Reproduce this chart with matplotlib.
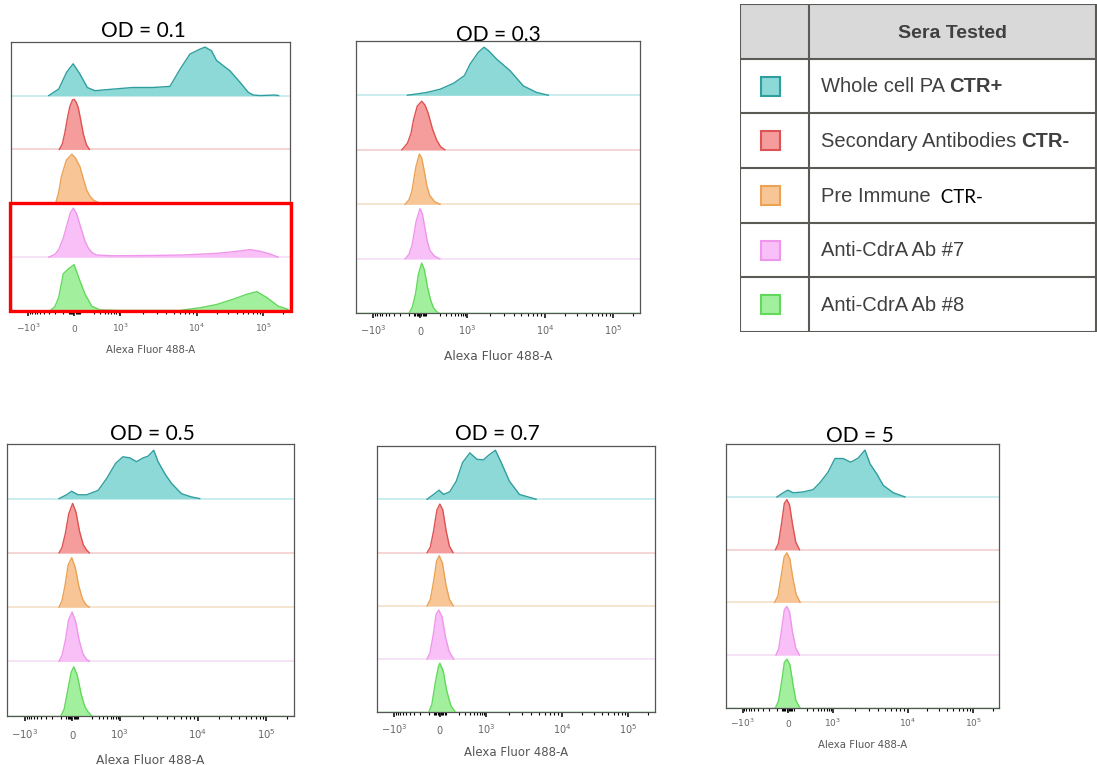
"""flow cytometry overlay figure: anti-CdrA sera at five OD values, plus the sera legend table.

each panel is a stacked (offset) histogram of Alexa Fluor 488-A, one lane per serum,
heights given as % of the lane height. x values are fluorescence, shown on a
logicle-like (biexponential) axis.
"""

import numpy as np
import matplotlib
matplotlib.use("Agg")
import matplotlib.pyplot as plt
from matplotlib.patches import Rectangle
from matplotlib.transforms import blended_transform_factory

# ---- data: (fluorescence, % of lane height) ----
od01_ctr_pos = [(-300, 0), (-150, 12), (-68, 43), (-10, 59), (48, 40), (120, 15), (215, 9),
                (460, 11), (1470, 15), (2700, 15), (4490, 17), (6080, 49), (8200, 77),
                (11200, 86), (13400, 90), (16800, 83), (20000, 65), (31700, 46), (44600, 25),
                (59700, 6), (70900, 1), (90000, 0), (150000, 1), (170000, 0)]
od01_secondary = [(-143, 0), (-110, 10), (-85, 30), (-60, 58), (-38, 80), (-15, 92), (-2, 93),
                  (15, 88), (33, 78), (55, 55), (80, 28), (110, 9), (143, 0)]
od01_preimmune = [(-190, 0), (-150, 20), (-120, 49), (-70, 80), (-22, 91), (10, 84), (48, 68),
                  (80, 45), (112, 25), (150, 13), (195, 6), (290, 0)]
od01_ab7 = [(-300, 0), (-200, 5), (-150, 14), (-100, 35), (-68, 57), (-35, 82), (-8, 91),
            (20, 80), (62, 51), (95, 30), (130, 17), (180, 8), (240, 4), (600, 2.5), (2450, 3),
            (6600, 4), (20000, 7), (35700, 10), (63700, 14), (89000, 11), (126000, 6),
            (167000, 0)]
od01_ab8 = [(-280, 0), (-200, 8), (-150, 25), (-100, 69), (-52, 78), (-2, 86), (48, 56),
            (97, 31), (172, 9), (300, 2), (1000, 1), (6000, 1), (11200, 6), (20000, 12),
            (35700, 22), (56600, 31), (80000, 36), (113000, 25), (168000, 9), (235000, 3)]

od03_ctr_pos = [(-115, 0), (55, 5), (200, 11), (465, 22), (860, 36), (1090, 57), (1400, 79),
                (1655, 88), (1880, 82), (2415, 66), (3580, 45), (5310, 17), (7880, 5),
                (11300, 0)]
od03_secondary = [(-180, 0), (-115, 12), (-80, 30), (-57, 55), (-25, 80), (12, 89), (40, 82),
                  (68, 67), (110, 38), (155, 18), (210, 5), (275, 0)]
od03_preimmune = [(-140, 0), (-100, 8), (-73, 23), (-36, 69), (-7, 92), (12, 85), (32, 63),
                  (55, 35), (80, 17), (130, 5), (200, 0)]
od03_ab7 = [(-140, 0), (-100, 8), (-70, 25), (-35, 68), (-2, 92), (18, 82), (38, 58), (60, 32),
            (85, 15), (130, 5), (195, 0)]
od03_ab8 = [(-100, 0), (-70, 10), (-40, 35), (-15, 72), (12, 92), (35, 80), (60, 50), (90, 25),
            (120, 10), (155, 3), (190, 0)]

od05_ctr_pos = [(-120, 0), (-48, 7), (-7, 13.5), (48, 7), (130, 7), (290, 15), (480, 37),
                (800, 65), (1100, 77), (1350, 75), (1645, 68), (2000, 75), (2300, 78),
                (2730, 89), (3100, 68), (3780, 46), (4600, 28), (6170, 9), (8260, 3), (10600, 0)]
od05_secondary = [(-120, 0), (-90, 10), (-60, 35), (-30, 72), (2, 91), (30, 75), (60, 40),
                  (95, 15), (130, 5), (160, 0)]
od05_preimmune = [(-120, 0), (-90, 12), (-62, 40), (-35, 78), (-5, 91), (25, 72), (55, 38),
                  (90, 14), (125, 4), (160, 0)]
od05_ab7 = [(-120, 0), (-90, 11), (-60, 38), (-32, 76), (-2, 91), (28, 73), (58, 38), (92, 14),
            (128, 4), (160, 0)]
od05_ab8 = [(-100, 0), (-70, 12), (-40, 45), (-10, 80), (12, 90), (40, 75), (75, 40), (110, 17),
            (150, 6), (190, 0)]

od07_ctr_pos = [(-118, 0), (-42, 11), (-7, 17), (33, 9), (88, 14), (160, 34), (250, 69),
                (395, 87), (600, 75), (870, 74), (1120, 84), (1340, 92), (1600, 69), (2050, 34),
                (2780, 9), (4600, 0)]
od07_secondary = [(-118, 0), (-85, 10), (-55, 40), (-25, 80), (0, 91), (25, 80), (55, 40),
                  (85, 12), (122, 0)]
od07_preimmune = [(-118, 0), (-85, 12), (-55, 45), (-28, 84), (-5, 94), (22, 80), (52, 40),
                  (85, 12), (125, 0)]
od07_ab7 = [(-118, 0), (-88, 12), (-58, 45), (-32, 84), (-10, 92), (18, 80), (48, 42), (82, 14),
            (130, 0)]
od07_ab8 = [(-100, 0), (-70, 15), (-40, 55), (-12, 86), (0, 92), (28, 78), (60, 40), (100, 12),
            (150, 0)]

od5_ctr_pos = [(-100, 0), (-40, 8), (0, 13), (48, 8), (150, 9.5), (305, 14), (475, 28),
               (750, 47), (1065, 73), (1375, 73), (1730, 66), (2190, 74), (2690, 89), (3140, 63),
               (3860, 44), (4730, 22), (6440, 8), (9230, 0)]
od5_secondary = [(-115, 0), (-85, 12), (-55, 50), (-30, 88), (-8, 95), (15, 85), (40, 50),
                 (70, 15), (108, 0)]
od5_preimmune = [(-125, 0), (-90, 12), (-60, 48), (-32, 86), (-8, 94), (18, 82), (45, 45),
                 (75, 15), (115, 0)]
od5_ab7 = [(-110, 0), (-82, 12), (-55, 48), (-30, 86), (-8, 92), (15, 82), (40, 45), (70, 14),
           (108, 0)]
od5_ab8 = [(-115, 0), (-85, 12), (-55, 48), (-30, 86), (-8, 92), (18, 82), (45, 45), (72, 14),
           (112, 0)]

od_labels = ["OD = 0.1", "OD = 0.3", "OD = 0.5", "OD = 0.7", "OD = 5"]
sera = ["Whole cell PA", "Secondary Antibodies", "Pre Immune", "Anti-CdrA Ab #7", "Anti-CdrA Ab #8"]
sera_tags = ["CTR+", "CTR-", "CTR-", "", ""]

fill_colors = ["#8dd9d7", "#f59c9c", "#f8c696", "#f9bff7", "#a2f09e"]
edge_colors = ["#2f9e9e", "#dd5252", "#eba255", "#ee96ec", "#62d85c"]
base_colors = ["#c6ecec", "#f3d2d2", "#f5e2cb", "#f6e0f6", "#d8f4d6"]

major_ticks = [-1e3, 0, 1e3, 1e4, 1e5]
major_labels = [r"$-10^{3}$", "0", r"$10^{3}$", r"$10^{4}$", r"$10^{5}$"]

# ---- logicle-like x scale ----
LIN = 150.0
anchor_vals = np.array([-1e5, -1e4, -1e3, 0, 1e3, 1e4, 1e5, 1e6])
anchor_pos = np.array([-0.70, -0.21, 0.062, 0.227, 0.392, 0.665, 0.904, 1.143])


def _g(x):
    return np.arcsinh(np.asarray(x, dtype=float) / LIN) / np.log(10)


anchor_g = _g(anchor_vals)


def fwd(x):
    return np.interp(_g(x), anchor_g, anchor_pos)


def inv(p):
    return LIN * np.sinh(np.interp(np.asarray(p, dtype=float), anchor_pos, anchor_g) * np.log(10))


minor_ticks = (list(range(-900, -99, 100)) + list(range(-50, 0, 10)) + list(range(10, 51, 10))
               + list(range(200, 1000, 100)) + list(range(2000, 10000, 1000))
               + list(range(20000, 100000, 10000)) + [200000])

W, H = 1097, 765
fig = plt.figure(figsize=(W / 100, H / 100), dpi=100)


def px_axes(x0, y0, x1, y1):
    return fig.add_axes([x0 / W, 1 - y1 / H, (x1 - x0) / W, (y1 - y0) / H])


# box (px), title baseline (px), xlabel centre y (px), tick-label baseline offset (px),
# tick font, label font
panels = [
    (od_labels[0], [od01_ctr_pos, od01_secondary, od01_preimmune, od01_ab7, od01_ab8],
     (11, 41.7, 290, 311), (143, 36.7), 350, 21, 6.5, 7.3),
    (od_labels[1], [od03_ctr_pos, od03_secondary, od03_preimmune, od03_ab7, od03_ab8],
     (355.7, 40.7, 640, 313.3), (498, 40.7), 357, 22, 7.0, 8.8),
    (od_labels[2], [od05_ctr_pos, od05_secondary, od05_preimmune, od05_ab7, od05_ab8],
     (7.3, 444.3, 294, 715.7), (152, 440), 760, 23, 7.3, 8.8),
    (od_labels[3], [od07_ctr_pos, od07_secondary, od07_preimmune, od07_ab7, od07_ab8],
     (376.7, 446, 655, 712.3), (497, 440), 753, 21.5, 7.0, 8.5),
    (od_labels[4], [od5_ctr_pos, od5_secondary, od5_preimmune, od5_ab7, od5_ab8],
     (725.7, 444.3, 999.3, 707.7), (860, 441.7), 745, 19.5, 6.5, 7.3),
]

TICK_LEN = 3.6
axes = []
for title, curves, box, tpos, ylab, base_off, tick_fs, lab_fs in panels:
    ax = px_axes(*box)
    ax.set_xscale("function", functions=(fwd, inv))
    ax.set_xlim(inv(0.0), inv(1.0))
    ax.set_ylim(0, 5)
    for k, curve in enumerate(curves):
        lane = 4 - k
        xs = np.array([c[0] for c in curve], dtype=float)
        hs = np.array([c[1] for c in curve], dtype=float)
        ax.axhline(lane, color=base_colors[k], lw=1.3, zorder=1)
        ax.fill_between(xs, lane, lane + hs / 100, color=fill_colors[k], lw=0, zorder=2)
        ax.plot(xs, lane + hs / 100, color=edge_colors[k], lw=1.0, zorder=3)

    ax.set_yticks([])
    ax.set_xticks(major_ticks)
    ax.set_xticklabels(major_labels)
    ax.set_xticks(minor_ticks, minor=True)
    ax.tick_params(axis="x", which="major", length=TICK_LEN, width=1.1, color="black",
                   labelsize=tick_fs, labelcolor="#666666", pad=base_off * 0.72 - TICK_LEN)
    ax.tick_params(axis="x", which="minor", length=2.2, width=0.8, color="black")
    for lbl in ax.get_xticklabels():
        lbl.set_verticalalignment("baseline")
    for s in ax.spines.values():
        s.set_color("#555555")
        s.set_linewidth(0.9)

    xc = (box[0] + box[2]) / 2
    fig.text(xc / W, 1 - ylab / H, "Alexa Fluor 488-A", ha="center", va="center",
             fontsize=lab_fs, color="#555555")
    fig.text(tpos[0] / W, 1 - tpos[1] / H, title, ha="center", va="baseline",
             fontsize=15, family=["Lato", "DejaVu Sans"], color="black")
    axes.append(ax)

# red box round the two anti-CdrA lanes at OD 0.1
ax0 = axes[0]
trans = blended_transform_factory(ax0.transAxes, ax0.transData)
ax0.add_patch(Rectangle((-0.004, 0.0), 1.008, 2.0, transform=trans, fill=False,
                        edgecolor="#ff0000", lw=2.4, clip_on=False, zorder=10))

# ---- legend table ----
tab = px_axes(740, 4, 1097, 332)
tab.set_xlim(0, 357)
tab.set_ylim(328, 0)
tab.axis("off")
row_h = 328 / 6
line_kw = dict(color="#5b5a55", lw=1.5, solid_capstyle="butt")
tab.add_patch(Rectangle((0, 0), 356, row_h, facecolor="#d9d9d9", edgecolor="none"))
for i in range(7):
    tab.plot([0, 356], [i * row_h, i * row_h], **line_kw)
tab.plot([0, 0], [0, 328], **line_kw)
tab.plot([69, 69], [0, 328], **line_kw)
tab.plot([356, 356], [0, 328], **line_kw)
tab.text(213, row_h / 2 + 2, "Sera Tested", ha="center", va="center", fontsize=14,
         fontweight="bold", color="#404040", family="Liberation Sans")

for k, name in enumerate(sera):
    yc = (k + 1.5) * row_h
    tab.add_patch(Rectangle((30 - 9.5, yc - 9.5), 19, 19, facecolor=fill_colors[k],
                            edgecolor=edge_colors[k], lw=1.5))
    t = tab.text(80.7, yc + 6.5, name + (" " if sera_tags[k] else ""), ha="left", va="baseline",
                 fontsize=14.5, color="#404040", family="Liberation Sans")
    if sera_tags[k]:
        if k == 2:
            tab.annotate(" " + sera_tags[k], xy=(1, 0), xycoords=t, ha="left", va="bottom",
                         fontsize=13.5, color="black", family=["Lato", "DejaVu Sans"])
        else:
            tab.annotate(sera_tags[k], xy=(1, 0), xycoords=t, ha="left", va="bottom",
                         fontsize=14.5, fontweight="bold", color="#404040",
                         family="Liberation Sans")

fig.savefig("out.png", dpi=100)
print("saved out.png")
